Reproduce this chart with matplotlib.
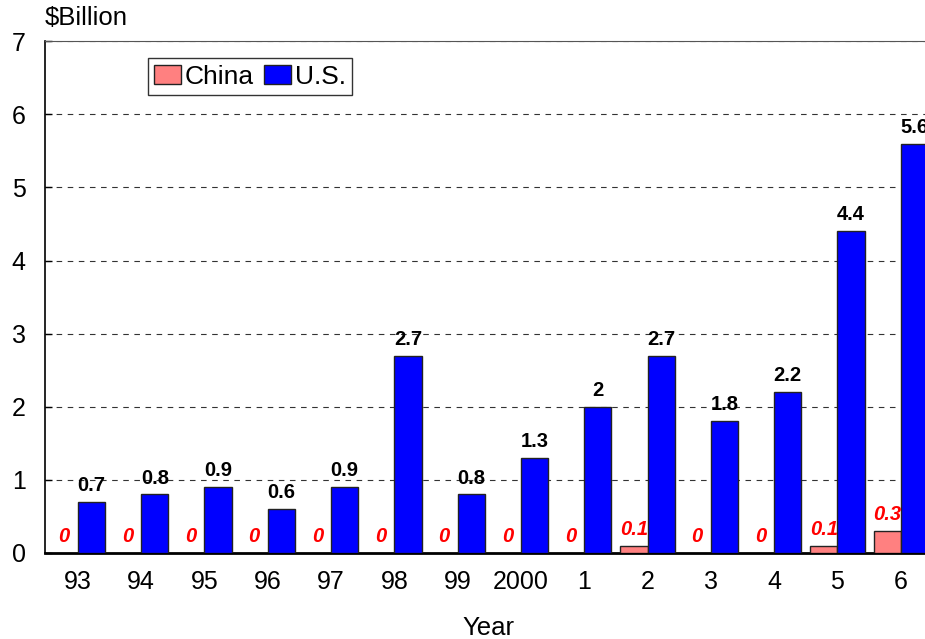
import numpy as np
import matplotlib.pyplot as plt

plt.rcParams['font.family'] = ['Liberation Sans', 'DejaVu Sans']

years = ['93', '94', '95', '96', '97', '98', '99', '2000', '1', '2', '3', '4', '5', '6']
china = [0, 0, 0, 0, 0, 0, 0, 0, 0, 0.1, 0, 0, 0.1, 0.3]
us = [0.7, 0.8, 0.9, 0.6, 0.9, 2.7, 0.8, 1.3, 2, 2.7, 1.8, 2.2, 4.4, 5.6]

fig = plt.figure(figsize=(9.25, 6.39), dpi=100)
ax = fig.add_axes([0.0486, 0.1346, 0.958, 0.801])

x = np.arange(len(years))
w = 0.43
ax.bar(x - w / 2, china, w, color='#FF8080', edgecolor='#222222', linewidth=1, label='China', zorder=3)
ax.bar(x + w / 2, us, w, color='#0000FF', edgecolor='#222222', linewidth=1, label='U.S.', zorder=3)

# value labels: China in red italics, U.S. in black
for xi, v in zip(x, china):
    ax.annotate(f'{v:g}', (xi - w / 2, v), xytext=(0, 5), textcoords='offset points',
                ha='center', va='bottom', color='#FF0000', fontsize=14.5,
                fontweight='bold', fontstyle='italic')
for xi, v in zip(x, us):
    ax.annotate(f'{v:g}', (xi + w / 2, v), xytext=(0, 5), textcoords='offset points',
                ha='center', va='bottom', color='black', fontsize=14.5, fontweight='bold')

ax.set_xlim(-0.52, 13.48)
ax.set_ylim(0, 7)
ax.set_yticks(range(8))
ax.set_xticks(x)
ax.set_xticklabels(years)
ax.tick_params(axis='x', length=0, labelsize=18, pad=12)
ax.tick_params(axis='y', direction='in', length=5, width=1, labelsize=18, pad=14)
ax.grid(axis='y', linestyle=(0, (5, 5)), color='#333333', linewidth=0.8, zorder=0)

ax.spines['right'].set_visible(False)
ax.spines['top'].set_color('#555555')
ax.spines['top'].set_linewidth(0.8)
ax.spines['left'].set_linewidth(1.2)
ax.spines['bottom'].set_linewidth(2)

ax.set_xlabel('Year', fontsize=18.5, labelpad=16)
fig.text(0.048, 0.972, '$Billion', fontsize=18.5, ha='left', va='center')

leg = ax.legend(loc='upper left', bbox_to_anchor=(0.116, 0.967), ncol=2, fontsize=19,
                frameon=True, fancybox=False, edgecolor='black', handlelength=1.0,
                handleheight=0.7, handletextpad=0.15, columnspacing=0.4,
                borderpad=0.25, borderaxespad=0)
leg.get_frame().set_linewidth(1)

fig.savefig('out.png', dpi=100)
